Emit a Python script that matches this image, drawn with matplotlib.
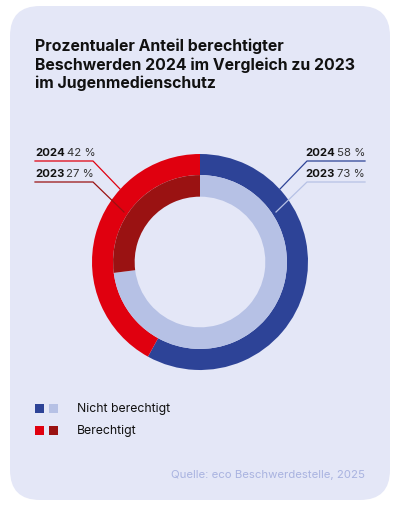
import matplotlib
matplotlib.use("Agg")
import matplotlib.pyplot as plt
from matplotlib.patches import FancyBboxPatch, Rectangle

# datos del grafico
categorias = ["Nicht berechtigt", "Berechtigt"]
anios = ["2024", "2023"]
valores_2024 = [58, 42]
valores_2023 = [73, 27]

colores_2024 = ["#2D4397", "#E0000F"]
colores_2023 = ["#B6C1E5", "#9A1212"]

titulo = "Prozentualer Anteil berechtigter\nBeschwerden 2024 im Vergleich zu 2023\nim Jugenmedienschutz"
fuente = "Quelle: eco Beschwerdestelle, 2025"

FONDO = "#E4E7F7"
W, H = 399, 511
FAMILIA = ["Inter", "DejaVu Sans"]

fig = plt.figure(figsize=(W / 100, H / 100), dpi=100)
fig.patch.set_facecolor("white")

# ejes de fondo en pixeles (y hacia abajo)
fondo = fig.add_axes([0, 0, 1, 1], zorder=0)
fondo.set_xlim(0, W)
fondo.set_ylim(H, 0)
fondo.axis("off")
fondo.add_patch(FancyBboxPatch((10 + 30, 6 + 30), 380 - 60, 494 - 60,
                               boxstyle="round,pad=30", fc=FONDO, ec="none"))

# anillos
cx, cy, r = 200, 262, 108
ax = fig.add_axes([(cx - r) / W, (H - cy - r) / H, 2 * r / W, 2 * r / H], zorder=1)
ax.pie(valores_2024, radius=1.0, colors=colores_2024, startangle=90, counterclock=False,
       wedgeprops=dict(width=0.195, edgecolor="none"))
ax.pie(valores_2023, radius=0.805, colors=colores_2023, startangle=90, counterclock=False,
       wedgeprops=dict(width=0.2, edgecolor="none"))
ax.set_xlim(-1, 1)
ax.set_ylim(-1, 1)
ax.set_aspect("equal")
ax.axis("off")

# capa de textos y lineas
top = fig.add_axes([0, 0, 1, 1], zorder=2)
top.set_xlim(0, W)
top.set_ylim(H, 0)
top.axis("off")
top.patch.set_alpha(0)

top.text(35, 65, titulo, fontsize=11.4, fontweight="bold", color="#111111",
         family=FAMILIA, va="center", ha="left", linespacing=1.25)

renderer = fig.canvas.get_renderer()


def ancho(t):
    bb = t.get_window_extent(renderer=renderer)
    return bb.width


def etiqueta(x, y, anio, valor, lado):
    # anio en negrita + valor normal
    if lado == "izq":
        t1 = top.text(x, y, anio, fontsize=8.2, fontweight="bold", color="#111111",
                      family=FAMILIA, va="center", ha="left")
        top.text(x + ancho(t1) + 2, y, f"{valor} %", fontsize=8.2, color="#333333",
                 family=FAMILIA, va="center", ha="left")
    else:
        t2 = top.text(x, y, f"{valor} %", fontsize=8.2, color="#333333",
                      family=FAMILIA, va="center", ha="right")
        top.text(x - ancho(t2) - 2, y, anio, fontsize=8.2, fontweight="bold", color="#111111",
                 family=FAMILIA, va="center", ha="right")


# etiquetas izquierda (Berechtigt)
etiqueta(35, 153, anios[0], valores_2024[1], "izq")
etiqueta(35, 174, anios[1], valores_2023[1], "izq")
top.plot([35, 93, 120, ], [161, 161, 189], color=colores_2024[1], lw=0.9)
top.plot([35, 93, 124], [182, 182, 212], color=colores_2023[1], lw=0.9)

# etiquetas derecha (Nicht berechtigt)
etiqueta(365, 153, anios[0], valores_2024[0], "der")
etiqueta(365, 174, anios[1], valores_2023[0], "der")
top.plot([365, 307, 280], [161, 161, 189], color=colores_2024[0], lw=0.9)
top.plot([365, 307, 276], [182, 182, 212], color=colores_2023[0], lw=0.9)

# leyenda
for i, cat in enumerate(categorias):
    y = 409 + i * 22
    top.add_patch(Rectangle((35, y - 4.5), 9, 9, fc=colores_2024[i], ec="none"))
    top.add_patch(Rectangle((49, y - 4.5), 9, 9, fc=colores_2023[i], ec="none"))
    top.text(77, y, cat, fontsize=8.8, color="#111111", family=FAMILIA,
             va="center", ha="left")

top.text(365, 475, fuente, fontsize=8.2, color="#A9B3E0", family=FAMILIA,
         va="center", ha="right")

fig.savefig("out.png", dpi=100, facecolor="white")
